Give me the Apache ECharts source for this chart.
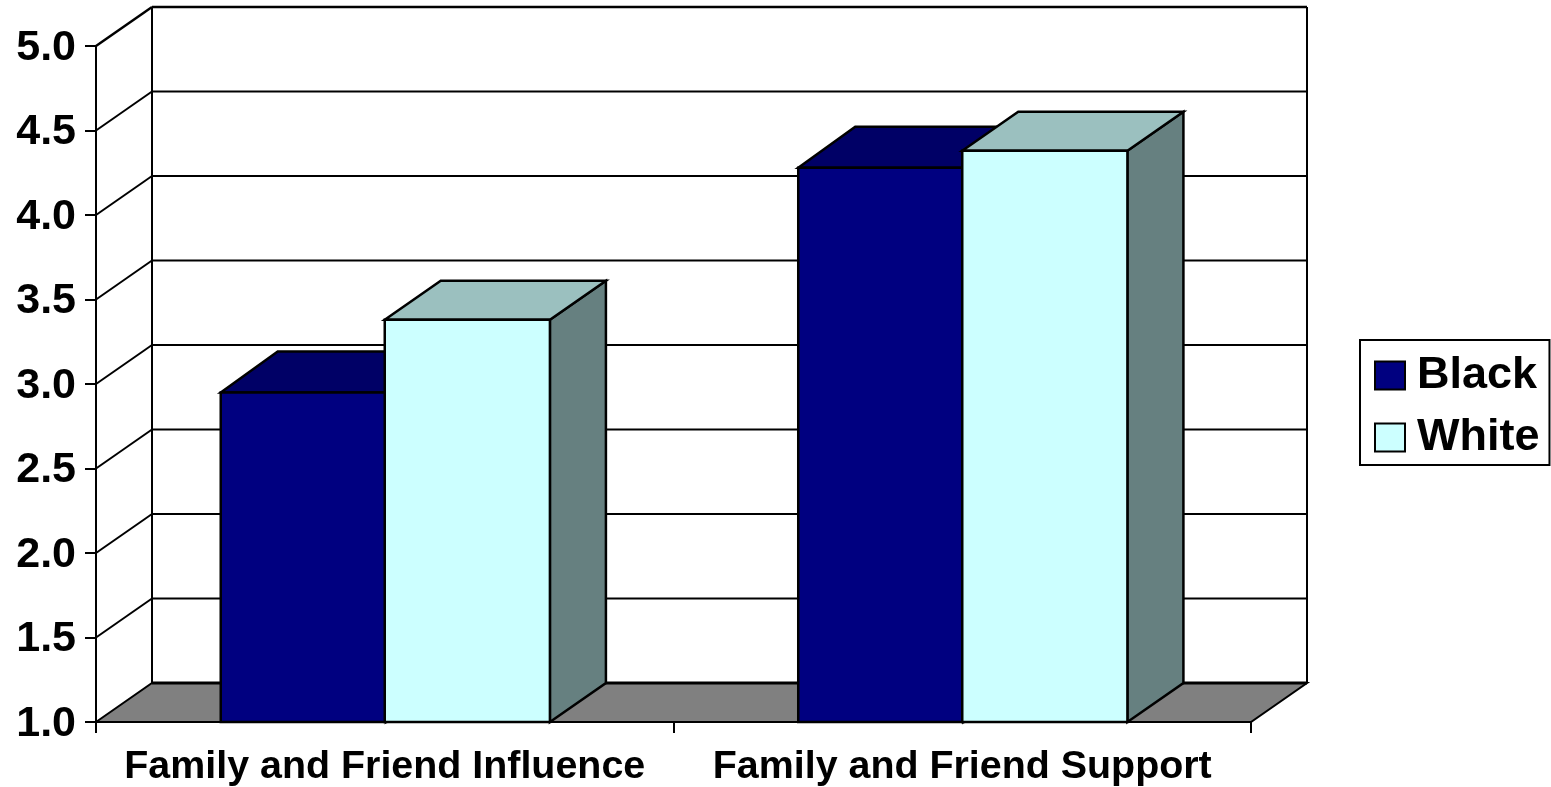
<!DOCTYPE html>
<html>
<head>
<meta charset="utf-8">
<style>
  html, body { margin: 0; padding: 0; background: #fff; }
  #chart { width: 1551px; height: 787px; }
</style>
<script src="https://cdn.jsdelivr.net/npm/echarts@6/dist/echarts.min.js"></script>
</head>
<body>
<div id="chart"></div>
<script>
const categories = ['Family and Friend Influence', 'Family and Friend Support']
const tickValues = [1.0, 1.5, 2.0, 2.5, 3.0, 3.5, 4.0, 4.5, 5.0]
const blackValues = [2.95, 4.28]
const whiteValues = [3.38, 4.38]

const depthX = 56
const depthY = -39
const barShare = 0.286
const fontFamily = '"Liberation Sans", Arial, sans-serif'

function poly(points, fill, lineWidth) {
  return {
    type: 'polygon',
    shape: { points },
    style: { fill, stroke: '#000', lineWidth: lineWidth || 2.5, lineJoin: 'miter' }
  }
}

function line(x1, y1, x2, y2, lineWidth) {
  return {
    type: 'line',
    shape: { x1, y1, x2, y2 },
    style: { stroke: '#000', lineWidth }
  }
}

// grid lines on the back wall plus the slanted bit on the left wall
function renderWall(params, api) {
  const sys = params.coordSys
  const y = api.coord([0, api.value(1)])[1]
  const left = sys.x
  const right = sys.x + sys.width
  const isTop = params.dataIndex === tickValues.length - 1
  const children = []
  if (params.dataIndex === 0) {
    children.push(poly([
      [left, y], [left + depthX, y + depthY], [right + depthX, y + depthY], [right, y]
    ], '#808080', 2))
    children.push(line(left + depthX, y + depthY, right + depthX, y + depthY, 3))
    children.push(line(left + depthX, sys.y + depthY, left + depthX, y + depthY, 2))
    children.push(line(right + depthX, sys.y + depthY, right + depthX, y + depthY, 2))
  } else {
    children.push(line(left + depthX, y + depthY, right + depthX, y + depthY, isTop ? 2.5 : 2))
    children.push(line(left, y, left + depthX, y + depthY, isTop ? 2.5 : 2))
  }
  return { type: 'group', children }
}

function barRenderer(offset, dx, dy, front, top, side) {
  return function (params, api) {
    const cat = api.value(0)
    const topPt = api.coord([cat, api.value(1)])
    const basePt = api.coord([cat, tickValues[0]])
    const w = api.size([1, 0])[0] * barShare
    const x0 = topPt[0] + offset * w
    const x1 = x0 + w
    const yT = topPt[1]
    const yB = basePt[1]
    return {
      type: 'group',
      children: [
        poly([[x1, yB], [x1 + dx, yB + dy], [x1 + dx, yT + dy], [x1, yT]], side),
        poly([[x0, yT], [x0 + dx, yT + dy], [x1 + dx, yT + dy], [x1, yT]], top),
        poly([[x0, yB], [x0, yT], [x1, yT], [x1, yB]], front)
      ]
    }
  }
}

const chart = echarts.init(document.getElementById('chart'), null, { renderer: 'canvas' })
chart.setOption({
  animation: false,
  backgroundColor: '#fff',
  grid: { left: 96, right: 300, top: 46, bottom: 65, outerBoundsMode: 'none' },
  legend: {
    left: 1360,
    top: 340,
    orient: 'vertical',
    data: ['Black', 'White'],
    icon: 'rect',
    itemWidth: 30,
    itemHeight: 28,
    itemGap: 17,
    padding: [13, 10, 5, 14],
    borderColor: '#000',
    borderWidth: 2,
    backgroundColor: '#fff',
    selectedMode: false,
    textStyle: { color: '#000', fontFamily, fontSize: 45, fontWeight: 'bold', padding: [0, 0, 0, 7] }
  },
  xAxis: {
    type: 'category',
    data: categories,
    axisLine: { show: true, lineStyle: { color: '#000', width: 2 } },
    axisTick: { show: true, length: 11, lineStyle: { color: '#000', width: 2 } },
    axisLabel: {
      color: '#000', fontFamily, fontSize: 39.4, fontWeight: 'bold', margin: 26, interval: 0
    }
  },
  yAxis: {
    type: 'value',
    min: 1,
    max: 5,
    interval: 0.5,
    axisLine: { show: true, lineStyle: { color: '#000', width: 2 } },
    axisTick: { show: true, length: 11, lineStyle: { color: '#000', width: 2 } },
    splitLine: { show: false },
    axisLabel: {
      color: '#000', fontFamily, fontSize: 43, fontWeight: 'bold', margin: 20,
      verticalAlign: 'top',
      lineHeight: 4,
      formatter: v => v.toFixed(1)
    }
  },
  series: [
    {
      name: 'walls',
      type: 'custom',
      clip: false,
      silent: true,
      z: 1,
      data: tickValues.map(v => [0, v]),
      renderItem: renderWall
    },
    {
      name: 'Black',
      type: 'custom',
      clip: false,
      z: 2,
      itemStyle: { color: '#000080', borderColor: '#000', borderWidth: 2 },
      data: blackValues.map((v, i) => [i, v]),
      renderItem: barRenderer(-0.993, 57, -41, '#000080', '#000066', '#000066')
    },
    {
      name: 'White',
      type: 'custom',
      clip: false,
      z: 3,
      itemStyle: { color: '#CCFFFF', borderColor: '#000', borderWidth: 2 },
      data: whiteValues.map((v, i) => [i, v]),
      renderItem: barRenderer(0, depthX, depthY, '#CCFFFF', '#9BC0BF', '#668080')
    }
  ]
})
</script>
</body>
</html>
